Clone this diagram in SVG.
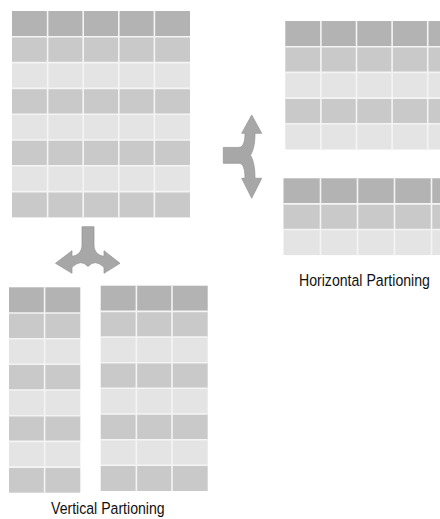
<svg xmlns="http://www.w3.org/2000/svg" width="440" height="519" viewBox="0 0 440 519">
<style>
.d{fill:#b3b3b3}.m{fill:#c9c9c9}.l{fill:#e4e4e4}
.g{stroke:#f4f4f4;stroke-width:1.6;fill:none}
.arr{fill:#a7a7a7;stroke:#939393;stroke-width:0.7;stroke-linejoin:miter}
.lbl{font-family:"Liberation Sans",Arial,sans-serif;font-size:17px;fill:#111111}
</style>
<rect width="440" height="519" fill="#ffffff"/>

<g id="table-original">
<rect class="d" x="12" y="11" width="178" height="25.8"/>
<rect class="m" x="12" y="36.8" width="178" height="25.8"/>
<rect class="l" x="12" y="62.6" width="178" height="25.8"/>
<rect class="m" x="12" y="88.4" width="178" height="25.8"/>
<rect class="l" x="12" y="114.2" width="178" height="25.8"/>
<rect class="m" x="12" y="140" width="178" height="25.8"/>
<rect class="l" x="12" y="165.8" width="178" height="25.8"/>
<rect class="m" x="12" y="191.6" width="178" height="25.8"/>
<path class="g" d="M47.6,11V217.4M83.2,11V217.4M118.8,11V217.4M154.4,11V217.4M12,36.8H190M12,62.6H190M12,88.4H190M12,114.2H190M12,140H190M12,165.8H190M12,191.6H190"/>
</g>

<g id="table-horizontal-1">
<rect class="d" x="285.3" y="21" width="160" height="25.7"/>
<rect class="m" x="285.3" y="46.7" width="160" height="25.7"/>
<rect class="l" x="285.3" y="72.4" width="160" height="25.7"/>
<rect class="m" x="285.3" y="98.1" width="160" height="25.7"/>
<rect class="l" x="285.3" y="123.8" width="160" height="25.7"/>
<path class="g" d="M320.9,21V149.5M356.5,21V149.5M392.1,21V149.5M427.7,21V149.5M285.3,46.7H445M285.3,72.4H445M285.3,98.1H445M285.3,123.8H445"/>
</g>

<g id="table-horizontal-2">
<rect class="d" x="283.5" y="178.3" width="160" height="25.6"/>
<rect class="m" x="283.5" y="203.9" width="160" height="25.6"/>
<rect class="l" x="283.5" y="229.5" width="160" height="25.6"/>
<path class="g" d="M320.5,178.3V255.1M357.5,178.3V255.1M394.5,178.3V255.1M431.5,178.3V255.1M283.5,203.9H445M283.5,229.5H445"/>
</g>

<g id="table-vertical-1">
<rect class="d" x="9" y="287.3" width="71.3" height="25.7"/>
<rect class="m" x="9" y="313" width="71.3" height="25.7"/>
<rect class="l" x="9" y="338.7" width="71.3" height="25.6"/>
<rect class="m" x="9" y="364.3" width="71.3" height="25.7"/>
<rect class="l" x="9" y="390" width="71.3" height="25.7"/>
<rect class="m" x="9" y="415.7" width="71.3" height="25.7"/>
<rect class="l" x="9" y="441.4" width="71.3" height="25.7"/>
<rect class="m" x="9" y="467.1" width="71.3" height="25.6"/>
<path class="g" d="M44.6,287.3V492.7M9,313H80.3M9,338.7H80.3M9,364.3H80.3M9,390H80.3M9,415.7H80.3M9,441.4H80.3M9,467.1H80.3"/>
</g>

<g id="table-vertical-2">
<rect class="d" x="100.7" y="285.7" width="107" height="25.7"/>
<rect class="m" x="100.7" y="311.4" width="107" height="25.6"/>
<rect class="l" x="100.7" y="337" width="107" height="25.7"/>
<rect class="m" x="100.7" y="362.7" width="107" height="25.6"/>
<rect class="l" x="100.7" y="388.3" width="107" height="25.7"/>
<rect class="m" x="100.7" y="414" width="107" height="25.7"/>
<rect class="l" x="100.7" y="439.7" width="107" height="25.6"/>
<rect class="m" x="100.7" y="465.3" width="107" height="25.7"/>
<path class="g" d="M136.4,285.7V491M172,285.7V491M100.7,311.4H207.7M100.7,337H207.7M100.7,362.7H207.7M100.7,388.3H207.7M100.7,414H207.7M100.7,439.7H207.7M100.7,465.3H207.7"/>
</g>

<g id="connectors">
<path id="arrow-horizontal" class="arr" d="M223.3,147.4 H239 C243,147.4 245,142 245,133.3 H241.7 L251.7,115 L261.7,133.3 H255 C255,145 253,151 250.5,155.3 C253,159.5 255,166 255,178.3 H261.7 L251.7,198.3 L241.7,178.3 H245 C245,169 243,163.3 239,163.3 H223.3 Z"/>
<path id="arrow-vertical" class="arr" d="M82,226.7 H94 V245 C94,251.5 98,255.5 104,256.3 L104,250.7 L120,263.3 L104,273.3 L104,267.3 Q95,258.5 88,266.5 Q81,258.5 72,267.3 L72,273.3 L55.5,263.3 L72,250.7 L72,256.3 C78,255.5 82,251.5 82,245 Z"/>
</g>

<g id="labels">
<text class="lbl" transform="translate(299,285.5) scale(0.83,1)">Horizontal Partioning</text>
<text class="lbl" transform="translate(51,513.5) scale(0.83,1)">Vertical Partioning</text>
</g>
</svg>
